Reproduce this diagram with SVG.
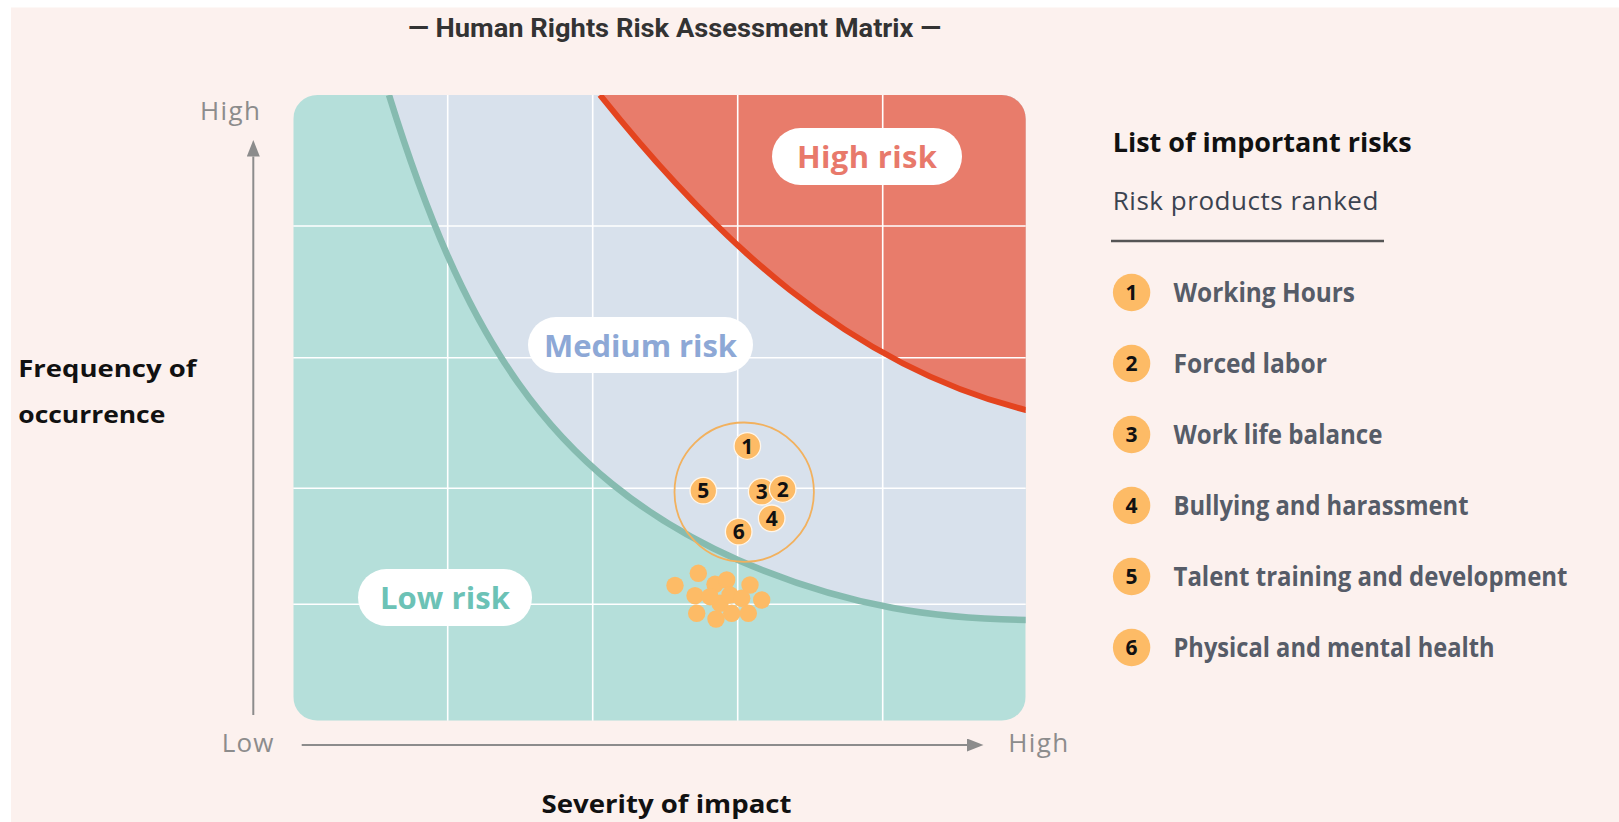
<svg xmlns="http://www.w3.org/2000/svg" width="1619" height="822" viewBox="0 0 1619 822">
<style>
.bg{fill:#FCF1EE}
.grid{stroke:#FFFFFF;stroke-width:1.6;fill:none}
.axis{stroke:#8C8C8C;stroke-width:2;fill:none}
.axlbl{font-family:"Open Sans","Liberation Sans",sans-serif;font-size:26px;fill:#8C8C8C}
.ttl{font-family:Roboto,"Liberation Sans",sans-serif;font-weight:700;font-size:25px;fill:#333333}
.bold{font-family:"Open Sans","Liberation Sans",sans-serif;font-weight:700;fill:#111111}
.pill{fill:#FFFFFF}
.zone{font-family:"Open Sans","Liberation Sans",sans-serif;font-weight:700;font-size:31px;text-anchor:middle}
.dot{fill:#FDBB66}
.mk{fill:#FDBB66;stroke:#FFF6EA;stroke-width:1.3}
.num{font-family:"Open Sans","Liberation Sans",sans-serif;font-weight:700;font-size:21px;fill:#111111;text-anchor:middle}
.item{font-family:"Open Sans","Liberation Sans",sans-serif;font-weight:700;font-size:26px;fill:#565C68}
</style>
<defs>
<clipPath id="mclip"><rect x="293.3" y="95" width="732.4" height="625.7" rx="24" ry="24"/></clipPath>
<marker id="arr" markerUnits="userSpaceOnUse" markerWidth="17" markerHeight="14" refX="0" refY="6.5" orient="auto">
<path d="M0,0 L16.5,6.5 L0,13 Z" fill="#8C8C8C"/>
</marker>
</defs>
<rect x="0" y="0" width="1619" height="822" fill="#FFFFFF"/>
<rect class="bg" x="11" y="7.5" width="1608" height="814.5"/>

<text class="ttl" x="408" y="37" textLength="533" lengthAdjust="spacingAndGlyphs">— Human Rights Risk Assessment Matrix —</text>

<g id="matrix" clip-path="url(#mclip)">
<rect x="293.3" y="95" width="732.4" height="625.7" fill="#B5DFDA"/>
<path d="M389 95 C462 330 545 474 738 560 C849 608 940 620 1040 620 L1040 80 L385 80 Z" fill="#D8E1EC"/>
<path d="M600 95 C715 239 849 366 1026 410 L1040 413 L1040 80 L590 80 Z" fill="#E87C6B"/>
<g class="grid">
<line x1="447.7" y1="90" x2="447.7" y2="725"/>
<line x1="592.7" y1="90" x2="592.7" y2="725"/>
<line x1="737.7" y1="90" x2="737.7" y2="725"/>
<line x1="882.7" y1="90" x2="882.7" y2="725"/>
<line x1="290" y1="226" x2="1030" y2="226"/>
<line x1="290" y1="357.7" x2="1030" y2="357.7"/>
<line x1="290" y1="488.3" x2="1030" y2="488.3"/>
<line x1="290" y1="604.3" x2="1030" y2="604.3"/>
</g>
<path d="M389 95 C462 330 545 474 738 560 C849 608 940 620 1040 620" fill="none" stroke="#86BBB0" stroke-width="6.5"/>
<path d="M600 95 C715 239 849 366 1026 410 L1040 413" fill="none" stroke="#E4441F" stroke-width="6"/>
</g>

<g id="zone-high">
<rect class="pill" x="772" y="128" width="190" height="57" rx="28.5"/>
<text class="zone" x="867" y="168" fill="#E8796B" textLength="140">High risk</text>
</g>
<g id="zone-medium">
<rect class="pill" x="528" y="317" width="225" height="56" rx="28"/>
<text class="zone" x="640.5" y="357" fill="#8DA8D6" textLength="193">Medium risk</text>
</g>
<g id="zone-low">
<rect class="pill" x="358" y="569" width="174" height="57" rx="28.5"/>
<text class="zone" x="445" y="609" fill="#6CC2B6" textLength="130">Low risk</text>
</g>

<g id="cluster">
<circle class="dot" cx="675" cy="585.5" r="8.7"/>
<circle class="dot" cx="698.3" cy="573.3" r="8.7"/>
<circle class="dot" cx="695" cy="595.7" r="8.7"/>
<circle class="dot" cx="696.7" cy="613.3" r="8.7"/>
<circle class="dot" cx="715" cy="584.3" r="8.7"/>
<circle class="dot" cx="726.7" cy="580" r="8.7"/>
<circle class="dot" cx="716" cy="619" r="8.7"/>
<circle class="dot" cx="720" cy="603.3" r="8.7"/>
<circle class="dot" cx="730" cy="595" r="8.7"/>
<circle class="dot" cx="731.7" cy="613.3" r="8.7"/>
<circle class="dot" cx="750" cy="585" r="8.7"/>
<circle class="dot" cx="748.3" cy="613.3" r="8.7"/>
<circle class="dot" cx="761.7" cy="600" r="8.7"/>
<circle class="dot" cx="741.7" cy="598.3" r="8.7"/>
<circle class="dot" cx="710" cy="596.7" r="8.7"/>
</g>

<g id="focus">
<circle cx="744.2" cy="492.2" r="69.7" fill="none" stroke="#F2B15E" stroke-width="1.8"/>
</g>
<g id="m1"><circle class="mk" cx="747.3" cy="446" r="13.3"/><text class="num" x="747.3" y="453.5">1</text></g>
<g id="m5"><circle class="mk" cx="703.3" cy="490.7" r="13.3"/><text class="num" x="703.3" y="498.2">5</text></g>
<g id="m3"><circle class="mk" cx="761.7" cy="491.7" r="13.3"/><text class="num" x="761.7" y="499.2">3</text></g>
<g id="m2"><circle class="mk" cx="782.7" cy="489" r="13.3"/><text class="num" x="782.7" y="496.5">2</text></g>
<g id="m4"><circle class="mk" cx="771.7" cy="518.3" r="13.3"/><text class="num" x="771.7" y="525.8">4</text></g>
<g id="m6"><circle class="mk" cx="738.7" cy="531.7" r="13.3"/><text class="num" x="738.7" y="539.2">6</text></g>

<g id="connectors">
<line class="axis" x1="253.3" y1="715" x2="253.3" y2="156.5" marker-end="url(#arr)"/>
<line class="axis" x1="301.7" y1="745" x2="967" y2="745" marker-end="url(#arr)"/>
</g>

<g id="axis-labels">
<text class="axlbl" x="200" y="120" textLength="60">High</text>
<text class="axlbl" x="221.7" y="751.7" textLength="51.6">Low</text>
<text class="axlbl" x="1008.3" y="751.7" textLength="60">High</text>
<text class="bold" x="18.3" y="376.7" font-size="24" textLength="178" lengthAdjust="spacingAndGlyphs">Frequency of</text>
<text class="bold" x="18.3" y="423" font-size="24" textLength="147" lengthAdjust="spacingAndGlyphs">occurrence</text>
<text class="bold" x="541.5" y="813" font-size="25" textLength="250" lengthAdjust="spacingAndGlyphs">Severity of impact</text>
</g>

<g id="legend">
<text class="bold" x="1112.7" y="151.7" font-size="27" textLength="299" lengthAdjust="spacingAndGlyphs">List of important risks</text>
<text x="1112.7" y="210" font-family="Open Sans, Liberation Sans, sans-serif" font-size="26" fill="#3B4350" textLength="265.7">Risk products ranked</text>
<line x1="1111" y1="241" x2="1384" y2="241" stroke="#555555" stroke-width="2.6"/>
<g id="item1"><circle class="dot" cx="1131.6" cy="292.5" r="18.7"/><text class="num" x="1131.6" y="300">1</text><text class="item" x="1173.5" y="301.5" textLength="181.5" lengthAdjust="spacingAndGlyphs">Working Hours</text></g>
<g id="item2"><circle class="dot" cx="1131.6" cy="363.5" r="18.7"/><text class="num" x="1131.6" y="371">2</text><text class="item" x="1173.5" y="372.5" textLength="153.3" lengthAdjust="spacingAndGlyphs">Forced labor</text></g>
<g id="item3"><circle class="dot" cx="1131.6" cy="434.5" r="18.7"/><text class="num" x="1131.6" y="442">3</text><text class="item" x="1173.5" y="443.5" textLength="209" lengthAdjust="spacingAndGlyphs">Work life balance</text></g>
<g id="item4"><circle class="dot" cx="1131.6" cy="505.5" r="18.7"/><text class="num" x="1131.6" y="513">4</text><text class="item" x="1173.5" y="514.5" textLength="295" lengthAdjust="spacingAndGlyphs">Bullying and harassment</text></g>
<g id="item5"><circle class="dot" cx="1131.6" cy="576.5" r="18.7"/><text class="num" x="1131.6" y="584">5</text><text class="item" x="1173.5" y="585.5" textLength="394" lengthAdjust="spacingAndGlyphs">Talent training and development</text></g>
<g id="item6"><circle class="dot" cx="1131.6" cy="647.5" r="18.7"/><text class="num" x="1131.6" y="655">6</text><text class="item" x="1173.5" y="656.5" textLength="321" lengthAdjust="spacingAndGlyphs">Physical and mental health</text></g>
</g>
</svg>
